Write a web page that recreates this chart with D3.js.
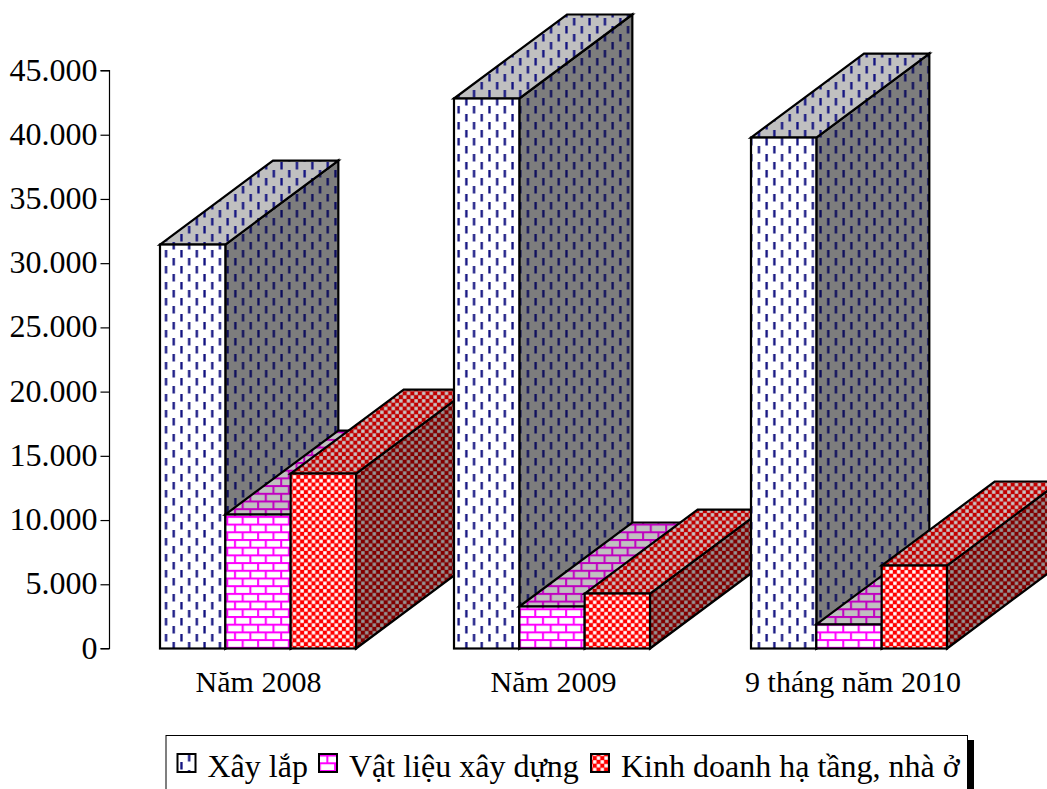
<!DOCTYPE html>
<html><head><meta charset="utf-8">
<script src="https://cdn.jsdelivr.net/npm/d3@7"></script>
<style>html,body{margin:0;padding:0;background:#fff;overflow:hidden}svg{display:block}text{font-family:"Liberation Serif",serif;fill:#000}</style>
</head><body><svg id="c" width="1047" height="789"></svg>
<script>
const categories = ["Năm 2008", "Năm 2009", "9 tháng năm 2010"];
const seriesNames = ["Xây lắp", "Vật liệu xây dựng", "Kinh doanh hạ tầng, nhà ở"];
const xayLap = [31450, 42820, 39780];
const vatLieu = [10430, 3270, 1870];
const kinhDoanh = [13620, 4280, 6460];
const tickValues = [0, 5000, 10000, 15000, 20000, 25000, 30000, 35000, 40000, 45000];
const tickLabels = ["0", "5.000", "10.000", "15.000", "20.000", "25.000", "30.000", "35.000", "40.000", "45.000"];
const seriesValues = [xayLap, vatLieu, kinhDoanh];
const patternKeys = ["dash", "brick", "check"];

const svg = d3.select("#c");
const defs = svg.append("defs");

const y = d3.scaleLinear().domain([0, 45000]).range([648.5, 70.5]);
const x0 = d3.scaleOrdinal().domain(categories).range([160, 454, 751]);
const xLabel = d3.scaleOrdinal().domain(categories).range([258.5, 553.5, 853]);
const x1 = d3.scaleBand().domain(d3.range(3)).range([0, 196]).paddingInner(0);
const depth = {dx: 113, dy: -84};

function dashPattern(id, bg, ink) {
  const p = defs.append("pattern").attr("id", id).attr("patternUnits", "userSpaceOnUse")
    .attr("width", 15.4).attr("height", 16);
  p.append("rect").attr("width", 15.4).attr("height", 16).attr("fill", bg);
  [[3.2, 2], [10.9, 10], [10.9, -6]].forEach(([a, b]) => {
    p.append("rect").attr("x", a).attr("y", b).attr("width", 2.3).attr("height", 7.5).attr("fill", ink);
  });
}
function brickPattern(id, bg, ink) {
  const p = defs.append("pattern").attr("id", id).attr("patternUnits", "userSpaceOnUse")
    .attr("width", 15.4).attr("height", 15.4);
  p.append("rect").attr("width", 15.4).attr("height", 15.4).attr("fill", bg);
  p.append("rect").attr("y", 0).attr("width", 15.4).attr("height", 2).attr("fill", ink);
  p.append("rect").attr("y", 7.7).attr("width", 15.4).attr("height", 2).attr("fill", ink);
  p.append("rect").attr("x", 3).attr("y", 0).attr("width", 2).attr("height", 7.7).attr("fill", ink);
  p.append("rect").attr("x", 10.7).attr("y", 7.7).attr("width", 2).attr("height", 7.7).attr("fill", ink);
}
function checkPattern(id, bg, ink) {
  const s = 7.6;
  const p = defs.append("pattern").attr("id", id).attr("patternUnits", "userSpaceOnUse")
    .attr("width", s).attr("height", s);
  p.append("rect").attr("width", s).attr("height", s).attr("fill", ink);
  p.append("rect").attr("x", 0.2).attr("y", 0.2).attr("width", 3.4).attr("height", 3.4).attr("fill", bg);
  p.append("rect").attr("x", 4).attr("y", 4).attr("width", 3.4).attr("height", 3.4).attr("fill", bg);
}
dashPattern("dash-front", "#ffffff", "#10107f");
dashPattern("dash-top", "#c0c0c0", "#10107f");
dashPattern("dash-side", "#7d7d7d", "#0c0c5c");
brickPattern("brick-front", "#ffffff", "#ff00ff");
brickPattern("brick-top", "#c0c0c0", "#c000c0");
brickPattern("brick-side", "#808080", "#800080");
checkPattern("check-front", "#ffffff", "#ff0000");
checkPattern("check-top", "#c8c8c8", "#c00000");
checkPattern("check-side", "#969696", "#800000");

const plot = svg.append("g");
const stroke = {stroke: "#000", "stroke-width": 2.2, "stroke-linejoin": "miter"};
function styled(sel) { Object.entries(stroke).forEach(([k, v]) => sel.attr(k, v)); return sel; }

categories.forEach((cat, ci) => {
  seriesValues.forEach((vals, si) => {
    const g = plot.append("g");
    const l = x0(cat) + x1(si), w = x1.bandwidth(), r = l + w;
    const t = y(vals[ci]), b = y(0);
    const pts = a => a.map(d => d.join(",")).join(" ");
    const k = patternKeys[si];
    styled(g.append("polygon").attr("points", pts([[r, b], [r + depth.dx, b + depth.dy], [r + depth.dx, t + depth.dy], [r, t]]))
      .attr("fill", `url(#${k}-side)`));
    styled(g.append("polygon").attr("points", pts([[l, t], [l + depth.dx, t + depth.dy], [r + depth.dx, t + depth.dy], [r, t]]))
      .attr("fill", `url(#${k}-top)`));
    styled(g.append("rect").attr("x", l).attr("y", t).attr("width", w).attr("height", b - t)
      .attr("fill", `url(#${k}-front)`));
  });
});

// value axis
const axis = d3.axisLeft(y).tickValues(tickValues).tickFormat((d, i) => tickLabels[i]).tickSize(9).tickPadding(3);
const ag = svg.append("g").attr("transform", "translate(109.5,0)").call(axis);
ag.selectAll("path,line").attr("stroke", "#000").attr("stroke-width", 1.2);
ag.select("path").attr("d", `M-9,${y(45000)}H0V${y(0)}H-9`);
ag.selectAll("text").attr("font-size", 32).attr("font-family", '"Liberation Serif",serif').attr("fill", "#000").attr("dy", "0.3em");

// category labels
svg.append("g").selectAll("text").data(categories).join("text")
  .attr("x", d => xLabel(d)).attr("y", 692).attr("text-anchor", "middle")
  .attr("font-size", 30).text(d => d);

// legend
const lg = svg.append("g");
lg.append("rect").attr("x", 967).attr("y", 740).attr("width", 7).attr("height", 49).attr("fill", "#000");
lg.append("rect").attr("x", 166).attr("y", 735.5).attr("width", 801.5).attr("height", 60)
  .attr("fill", "#fff").attr("stroke", "#000").attr("stroke-width", 1);
const legendX = [177.5, 319, 591];
seriesNames.forEach((n, i) => {
  const k = patternKeys[i];
  lg.append("rect").attr("x", legendX[i]).attr("y", 754).attr("width", 18).attr("height", 18)
    .attr("fill", `url(#${k}-front)`).attr("stroke", "#000").attr("stroke-width", 2);
  lg.append("text").attr("x", legendX[i] + 30).attr("y", 777).attr("font-size", 32).text(n);
});
</script></body></html>
